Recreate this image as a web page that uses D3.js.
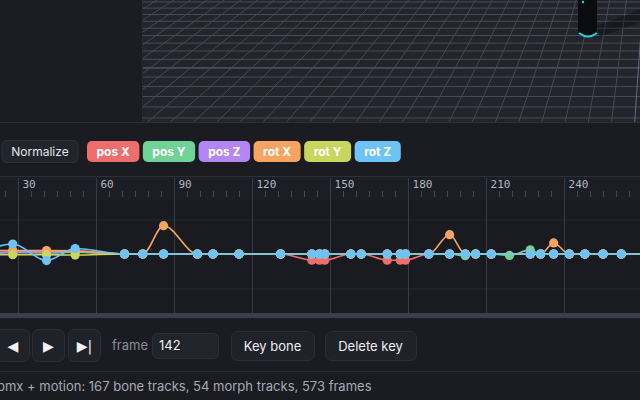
<!DOCTYPE html>
<html>
<head>
<meta charset="utf-8">
<script src="https://cdn.jsdelivr.net/npm/d3@7"></script>
<style>
  html, body { margin:0; padding:0; background:#1b1c22; overflow:hidden; }
  svg { display:block; font-family: Inter, "Noto Sans", sans-serif; }
</style>
</head>
<body>
<svg id="chart" width="640" height="400"></svg>
<script>
//Channels and their colours
var channels = ["pos X", "pos Y", "pos Z", "rot X", "rot Y", "rot Z"];
var channelColors = ["#ee6e6e", "#6fd396", "#b486f4", "#f7a463", "#c9d65e", "#6dc3f6"];

//Keyed frames (shared by every channel)
var keyFrames = [15, 28, 41, 52, 71, 78, 86, 99, 105, 115, 131, 143, 146, 148, 158, 162,
                 172, 177, 179, 188, 196, 202, 206, 212, 219, 227, 231, 236, 242, 248, 255, 262, 275];

//Normalized values per channel (null = no key on that frame)
var posX = [0, 0.03, 0.04, 0.03, 0, 0, 0, 0, 0, 0, 0, -0.09, -0.09, -0.09, 0, 0,
            -0.09, -0.09, -0.09, 0, 0, 0, 0, 0, null, 0, 0, 0, 0, 0, 0, 0, 0];
var posY = [0, 0.02, 0.015, 0.025, 0, 0, 0, 0, 0, 0, 0, 0, 0, 0, 0, 0,
            0, 0, 0, 0, 0, -0.025, 0, 0, -0.02, 0.06, 0, 0, 0, 0, 0, 0, 0];
var posZ = [0, 0.03, 0.025, 0.04, 0, 0, 0, 0, 0, 0, 0, 0, 0, 0, 0, 0,
            0, 0, 0, 0, 0, 0, 0, 0, null, 0, 0, 0, 0, 0, 0, 0, 0];
var rotX = [0.05, 0.05, 0.05, 0.045, 0, 0, 0.41, 0, 0, 0, 0, 0, 0, 0, 0, 0,
            0, 0, 0, 0, 0.28, 0, 0, 0, null, 0, 0, 0.16, 0, 0, 0, 0, 0];
var rotY = [-0.01, -0.01, -0.01, -0.015, 0, 0, 0, 0, 0, 0, 0, 0, 0, 0, 0, 0,
            0, 0, 0, 0, 0, 0, 0, 0, null, 0, 0, 0, 0, 0, 0, 0, 0];
var rotZ = [0, 0.145, -0.095, 0.08, 0, 0, 0, 0, 0, 0, 0, 0, 0, 0, 0, 0,
            0, 0, 0, 0, 0, 0, 0, 0, null, 0, 0, 0, 0, 0, 0, 0, 0];
var channelValues = [posX, posY, posZ, rotX, rotY, rotZ];

//Ruler labels and horizontal guides
var tickLabels = [30, 60, 90, 120, 150, 180, 210, 240];
var guideValues = [-0.5, 0.5];

var svg = d3.select("#chart");
var defs = svg.append("defs");

//---------- 3D viewport ----------
svg.append("rect").attr("x", 0).attr("y", 0).attr("width", 142).attr("height", 122).attr("fill", "#1b1d24");
svg.append("rect").attr("x", 142).attr("y", 0).attr("width", 498).attr("height", 122).attr("fill", "#23242c");
defs.append("clipPath").attr("id", "vpClip")
  .append("rect").attr("x", 142).attr("y", 0).attr("width", 498).attr("height", 122);

var vanish = [665, -317], focal = 435;
function project(xb, d) {
  return [vanish[0] + (xb - vanish[0]) / d, vanish[1] + focal / d];
}
var floor = svg.append("g").attr("clip-path", "url(#vpClip)");
d3.range(0, 17).forEach(function(k) {
  var yy = project(0, 1 + 0.026 * k)[1];
  floor.append("line")
    .attr("x1", 142).attr("x2", 640).attr("y1", yy).attr("y2", yy)
    .attr("stroke", k === 5 ? "#666a7e" : "#484b5a").attr("stroke-width", 1);
});
d3.range(-40, 3).forEach(function(j) {
  var xb = 635 + 23 * j;
  var a = project(xb, 0.85), b = project(xb, 1.9);
  floor.append("line")
    .attr("x1", a[0]).attr("y1", a[1]).attr("x2", b[0]).attr("y2", b[1])
    .attr("stroke", j === 0 ? "#666a7e" : "#454857").attr("stroke-width", 1);
});
//figure leg + shadow
floor.append("path").attr("d", "M597,26 L640,10 L640,22 L600,37 Z").attr("fill", "rgba(10,10,14,0.35)");
floor.append("path").attr("d", "M578,0 L597,0 L597,30 Q597,37 588,37 Q578,37 578,30 Z").attr("fill", "#0b0c0f");
floor.append("path").attr("d", "M579,33 Q588,40 597,33").attr("fill", "none")
  .attr("stroke", "#29d3e4").attr("stroke-width", 2);
floor.append("circle").attr("cx", 583).attr("cy", 2).attr("r", 1.2).attr("fill", "#29d3e4");
svg.append("line").attr("x1", 142.5).attr("x2", 142.5).attr("y1", 0).attr("y2", 122).attr("stroke", "#2a2c35");
svg.append("line").attr("x1", 0).attr("x2", 640).attr("y1", 122.5).attr("y2", 122.5).attr("stroke", "#2c2e38");

//---------- toolbar ----------
var toolbar = svg.append("g");
toolbar.append("rect").attr("x", 2).attr("y", 140.5).attr("width", 76).attr("height", 22).attr("rx", 5)
  .attr("fill", "#22242c").attr("stroke", "#2e313b");
toolbar.append("text").attr("x", 40).attr("y", 156).attr("text-anchor", "middle")
  .attr("fill", "#e4e5ea").attr("font-size", 12).text("Normalize");

var cursor = 87;
channels.forEach(function(name, i) {
  var g = toolbar.append("g");
  var rect = g.append("rect").attr("y", 141).attr("height", 21).attr("rx", 5).attr("fill", channelColors[i]);
  var t = g.append("text").attr("y", 156).attr("text-anchor", "middle")
    .attr("fill", "#ffffff").attr("font-size", 12).attr("font-weight", 700).text(name);
  var w = t.node().getComputedTextLength() + 19;
  rect.attr("x", cursor).attr("width", w);
  t.attr("x", cursor + w / 2);
  cursor += w + 3.5;
});

//---------- ruler + curves ----------
var x = d3.scaleLinear().domain([23.1, 269.2]).range([0, 640]);
var y = d3.scaleLinear().domain([-1, 1]).range([323, 185]);

svg.append("rect").attr("x", 0).attr("y", 176).attr("width", 640).attr("height", 24).attr("fill", "#1c1e25");
svg.append("rect").attr("x", 0).attr("y", 200).attr("width", 640).attr("height", 113).attr("fill", "#1a1b21");
svg.append("line").attr("x1", 0).attr("x2", 640).attr("y1", 176.5).attr("y2", 176.5).attr("stroke", "#2c2f3a");

//horizontal guides
svg.append("g")
  .call(d3.axisRight(y).tickValues(guideValues).tickSize(640).tickFormat(""))
  .call(function(g) { g.select(".domain").remove(); })
  .call(function(g) { g.selectAll("line").attr("stroke", "#272931"); });

//minor ticks every 5 frames
var minorTicks = d3.range(25, 270, 5).filter(function(f) { return f % 30 !== 0; });
svg.append("g")
  .attr("transform", "translate(0,191)")
  .call(d3.axisBottom(x).tickValues(minorTicks).tickSize(6).tickFormat(""))
  .call(function(g) { g.select(".domain").remove(); })
  .call(function(g) { g.selectAll("line").attr("stroke", "#474a56"); });

//major lines + labels
svg.append("g")
  .attr("transform", "translate(0,178)")
  .call(d3.axisBottom(x).tickValues(tickLabels).tickSize(135).tickFormat(d3.format("d")))
  .call(function(g) { g.select(".domain").remove(); })
  .call(function(g) { g.selectAll("line").attr("stroke", "#3a3d48"); })
  .call(function(g) {
    g.selectAll("text")
      .attr("x", 4).attr("y", 2).attr("dy", "0.71em")
      .attr("text-anchor", "start")
      .attr("fill", "#b3b7c3")
      .attr("font-family", "'DejaVu Sans Mono', monospace")
      .attr("font-size", 11);
  });

defs.append("clipPath").attr("id", "graphClip")
  .append("rect").attr("x", 0).attr("y", 176).attr("width", 640).attr("height", 137);

var line = d3.line()
  .x(function(d) { return x(d.frame); })
  .y(function(d) { return y(d.value); })
  .curve(d3.curveMonotoneX);

var curves = svg.append("g").attr("clip-path", "url(#graphClip)");
channelValues.forEach(function(vals, i) {
  var pts = keyFrames.map(function(f, k) { return {frame: f, value: vals[k]}; })
    .filter(function(d) { return d.value !== null; });
  curves.append("path")
    .datum(pts)
    .attr("d", line)
    .attr("fill", "none")
    .attr("stroke", channelColors[i])
    .attr("stroke-width", 1.6);
  curves.append("g").selectAll("circle")
    .data(pts)
    .enter().append("circle")
    .attr("cx", function(d) { return x(d.frame); })
    .attr("cy", function(d) { return y(d.value); })
    .attr("r", 4.6)
    .attr("fill", channelColors[i]);
});

//separator
svg.append("rect").attr("x", 0).attr("y", 313).attr("width", 640).attr("height", 5).attr("fill", "#3a3e51");

//---------- playback controls ----------
var controls = svg.append("g");
[{label: "\u25C0", x: -4, w: 33}, {label: "\u25B6", x: 32, w: 32}, {label: "\u25B6|", x: 68, w: 32}]
  .forEach(function(b) {
    controls.append("rect").attr("x", b.x + 0.5).attr("y", 329.5).attr("width", b.w).attr("height", 32).attr("rx", 6)
      .attr("fill", "#20222a").attr("stroke", "#2b2e37");
    controls.append("text").attr("x", b.x + b.w / 2 + 0.5).attr("y", 351).attr("text-anchor", "middle")
      .attr("fill", "#f2f2f5").attr("font-size", 14).attr("font-family", "'DejaVu Sans', sans-serif").text(b.label);
  });
controls.append("text").attr("x", 112).attr("y", 350).attr("fill", "#8a8e9b").attr("font-size", 13).text("frame");
controls.append("rect").attr("x", 152.5).attr("y", 333.5).attr("width", 66).attr("height", 25).attr("rx", 5)
  .attr("fill", "#22242c").attr("stroke", "#2c2f38");
controls.append("text").attr("x", 159).attr("y", 350).attr("fill", "#f2f2f5").attr("font-size", 13).text("142");
[{label: "Key bone", x: 231, w: 83}, {label: "Delete key", x: 325, w: 91}].forEach(function(b) {
  controls.append("rect").attr("x", b.x + 0.5).attr("y", 331.5).attr("width", b.w).attr("height", 29).attr("rx", 6)
    .attr("fill", "#20222a").attr("stroke", "#2b2e37");
  controls.append("text").attr("x", b.x + b.w / 2).attr("y", 351).attr("text-anchor", "middle")
    .attr("fill", "#eeeef2").attr("font-size", 13).text(b.label);
});

//---------- status bar ----------
svg.append("line").attr("x1", 0).attr("x2", 640).attr("y1", 371.5).attr("y2", 371.5).attr("stroke", "#2a2c35");
svg.append("text").attr("x", -3).attr("y", 391).attr("fill", "#a6aab6").attr("font-size", 13)
  .text("pmx + motion: 167 bone tracks, 54 morph tracks, 573 frames");
</script>
</body>
</html>
